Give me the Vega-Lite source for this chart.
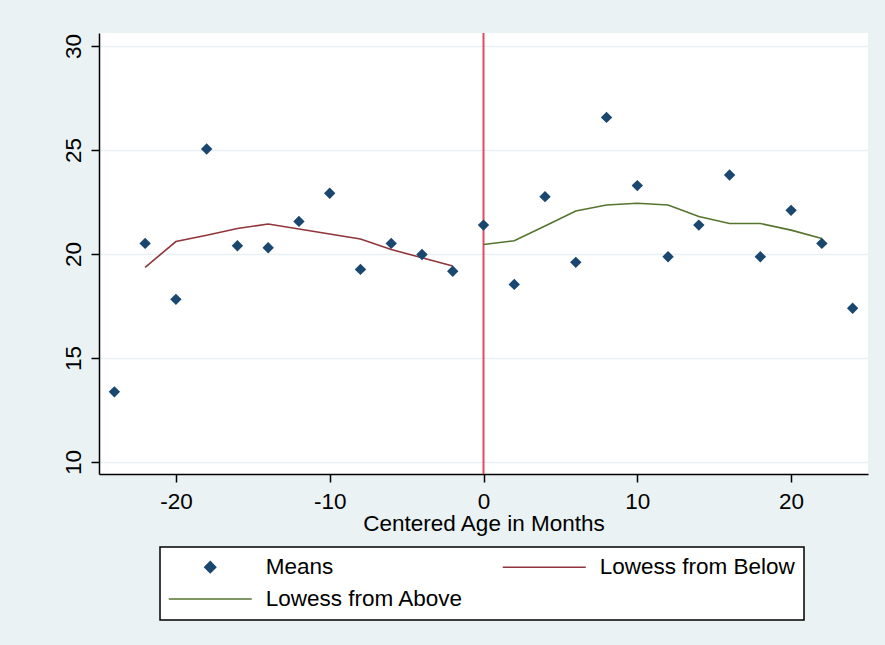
{
  "$schema": "https://vega.github.io/schema/vega-lite/v6.json",
  "width": 769,
  "height": 441,
  "autosize": {"type": "none"},
  "padding": {"left": 99, "top": 33, "right": 17, "bottom": 171},
  "background": "#eaf2f3",
  "config": {
    "font": "Liberation Sans",
    "view": {"fill": "white", "stroke": null}
  },
  "datasets": {
    "pts": [
      {"age": -24, "value": 13.37, "series": "Means"},
      {"age": -22, "value": 20.51, "series": "Means"},
      {"age": -20, "value": 17.82, "series": "Means"},
      {"age": -18, "value": 25.05, "series": "Means"},
      {"age": -16, "value": 20.4, "series": "Means"},
      {"age": -14, "value": 20.3, "series": "Means"},
      {"age": -12, "value": 21.57, "series": "Means"},
      {"age": -10, "value": 22.92, "series": "Means"},
      {"age": -8, "value": 19.26, "series": "Means"},
      {"age": -6, "value": 20.51, "series": "Means"},
      {"age": -4, "value": 19.98, "series": "Means"},
      {"age": -2, "value": 19.17, "series": "Means"},
      {"age": 0, "value": 21.39, "series": "Means"},
      {"age": 2, "value": 18.54, "series": "Means"},
      {"age": 4, "value": 22.76, "series": "Means"},
      {"age": 6, "value": 19.6, "series": "Means"},
      {"age": 8, "value": 26.57, "series": "Means"},
      {"age": 10, "value": 23.29, "series": "Means"},
      {"age": 12, "value": 19.87, "series": "Means"},
      {"age": 14, "value": 21.39, "series": "Means"},
      {"age": 16, "value": 23.8, "series": "Means"},
      {"age": 18, "value": 19.87, "series": "Means"},
      {"age": 20, "value": 22.1, "series": "Means"},
      {"age": 22, "value": 20.51, "series": "Means"},
      {"age": 24, "value": 17.39, "series": "Means"}
    ],
    "lowess": [
      {"age": -22, "value": 19.36, "series": "Lowess from Below"},
      {"age": -20, "value": 20.6, "series": "Lowess from Below"},
      {"age": -18, "value": 20.9, "series": "Lowess from Below"},
      {"age": -16, "value": 21.23, "series": "Lowess from Below"},
      {"age": -14, "value": 21.44, "series": "Lowess from Below"},
      {"age": -12, "value": 21.2, "series": "Lowess from Below"},
      {"age": -10, "value": 20.96, "series": "Lowess from Below"},
      {"age": -8, "value": 20.72, "series": "Lowess from Below"},
      {"age": -6, "value": 20.22, "series": "Lowess from Below"},
      {"age": -4, "value": 19.82, "series": "Lowess from Below"},
      {"age": -2, "value": 19.42, "series": "Lowess from Below"},
      {"age": 0, "value": 20.46, "series": "Lowess from Above"},
      {"age": 2, "value": 20.64, "series": "Lowess from Above"},
      {"age": 4, "value": 21.35, "series": "Lowess from Above"},
      {"age": 6, "value": 22.07, "series": "Lowess from Above"},
      {"age": 8, "value": 22.36, "series": "Lowess from Above"},
      {"age": 10, "value": 22.44, "series": "Lowess from Above"},
      {"age": 12, "value": 22.36, "series": "Lowess from Above"},
      {"age": 14, "value": 21.8, "series": "Lowess from Above"},
      {"age": 16, "value": 21.47, "series": "Lowess from Above"},
      {"age": 18, "value": 21.47, "series": "Lowess from Above"},
      {"age": 20, "value": 21.15, "series": "Lowess from Above"},
      {"age": 22, "value": 20.75, "series": "Lowess from Above"}
    ]
  },
  "encoding": {
    "x": {
      "field": "age",
      "type": "quantitative",
      "scale": {"domain": [-25, 25], "nice": false, "zero": false},
      "axis": {
        "title": "Centered Age in Months",
        "values": [-20, -10, 0, 10, 20],
        "labelExpr": "'' + datum.value",
        "grid": false,
        "labelFontSize": 22.5,
        "labelColor": "#000",
        "labelPadding": 8,
        "tickSize": 8,
        "tickWidth": 1.5,
        "tickColor": "#000",
        "domainColor": "#000",
        "domainWidth": 1.5,
        "titleFontSize": 22.5,
        "titleFontWeight": "normal",
        "titleColor": "#000",
        "titlePadding": 0
      }
    },
    "y": {
      "field": "value",
      "type": "quantitative",
      "scale": {"domain": [9.42, 30.63], "nice": false, "zero": false},
      "axis": {
        "title": null,
        "values": [10, 15, 20, 25, 30],
        "grid": true,
        "gridColor": "#e8f0f2",
        "gridWidth": 1.5,
        "labelAngle": -90,
        "labelAlign": "center",
        "labelBaseline": "alphabetic",
        "labelFontSize": 22.5,
        "labelColor": "#000",
        "labelPadding": 11,
        "tickSize": 8,
        "tickWidth": 1.5,
        "tickColor": "#000",
        "domainColor": "#000",
        "domainWidth": 1.5
      }
    }
  },
  "layer": [
    {
      "data": {"values": [{"age": 0}]},
      "mark": {"type": "rule", "color": "#dc4d60", "strokeWidth": 2},
      "encoding": {"x": {"field": "age", "type": "quantitative"}, "y": null}
    },
    {
      "data": {"name": "lowess"},
      "mark": {"type": "line", "strokeWidth": 1.6},
      "encoding": {
        "color": {
          "field": "series",
          "type": "nominal",
          "scale": {
            "domain": ["Means", "Lowess from Below", "Lowess from Above"],
            "range": ["#1a476f", "#90353b", "#55752f"]
          },
          "legend": {
            "title": null,
            "orient": "none",
            "direction": "horizontal",
            "legendX": 61,
            "legendY": 514,
            "columns": 2,
            "columnPadding": 36,
            "rowPadding": 9,
            "padding": 8.75,
            "fillColor": "white",
            "strokeColor": "black",
            "labelFontSize": 22.5,
            "labelColor": "#000",
            "labelLimit": 400,
            "symbolSize": 100,
            "symbolOffset": 30.25,
            "labelOffset": 44.25,
            "encode": {
              "legend": {"update": {"strokeWidth": {"value": 1.5}}},
              "symbols": {
                "update": {
                  "shape": {"signal": "datum.value === 'Means' ? 'M0,-1.1L1.1,0L0,1.1L-1.1,0Z' : 'M-8.3,0L8.3,0'"},
                  "fill": {"signal": "datum.value === 'Means' ? '#1a476f' : 'transparent'"},
                  "stroke": {"signal": "datum.value === 'Means' ? 'transparent' : scale('color', datum.value)"},
                  "strokeWidth": {"value": 1.5},
                  "opacity": {"value": 1}
                }
              }
            }
          }
        }
      }
    },
    {
      "data": {"name": "pts"},
      "mark": {"type": "point", "shape": "diamond", "filled": true, "size": 130, "opacity": 1},
      "encoding": {
        "color": {"field": "series", "type": "nominal"}
      }
    }
  ]
}
